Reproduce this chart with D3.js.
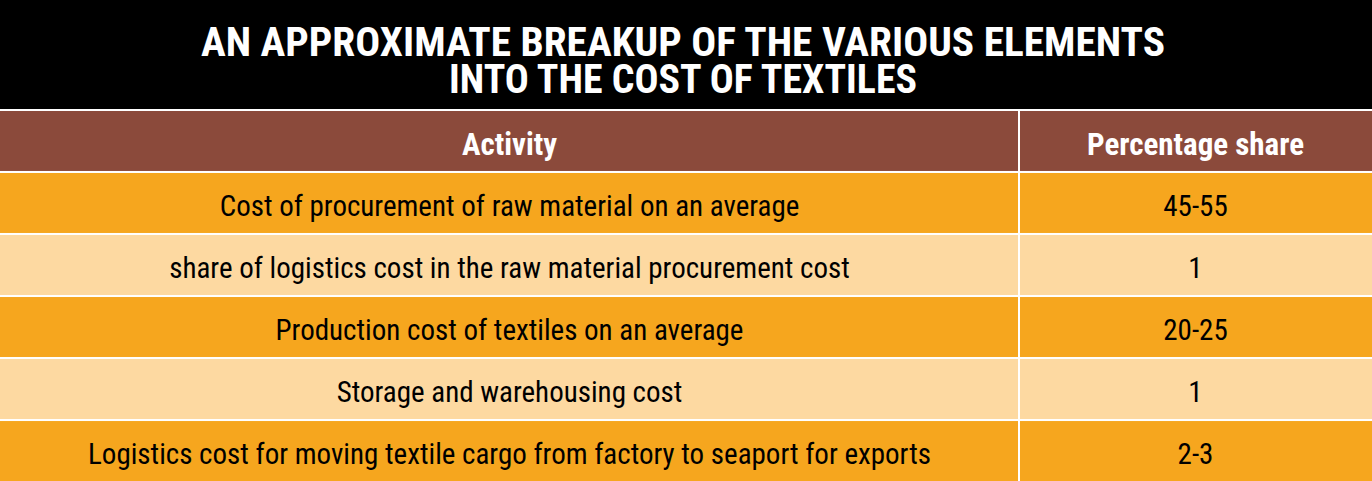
<!DOCTYPE html>
<html lang="en">
<head>
    <meta charset="UTF-8">
    <title>Cost of textiles</title>
    <script src="https://d3js.org/d3.v7.min.js"></script>
    <style>
        body { margin: 0; background: #fff; }
        text { font-family: "Liberation Sans Narrow", "Roboto Condensed", "Liberation Sans", sans-serif; }
    </style>
</head>
<body>
    <script>
        const titleLines = ["AN APPROXIMATE BREAKUP OF THE VARIOUS ELEMENTS", "INTO THE COST OF TEXTILES"];
        const headers = ["Activity", "Percentage share"];
        const activities = [
            "Cost of procurement of raw material on an average",
            "share of logistics cost in the raw material procurement cost",
            "Production cost of textiles on an average",
            "Storage and warehousing cost",
            "Logistics cost for moving textile cargo from factory to seaport for exports"
        ];
        const shares = ["45-55", "1", "20-25", "1", "2-3"];

        const width = 1372, height = 481;
        const svg = d3.select("body").append("svg")
            .attr("width", width).attr("height", height);

        // title band
        svg.append("rect").attr("x", 0).attr("y", 0).attr("width", width).attr("height", 109).attr("fill", "#000");
        svg.selectAll("text.title").data(titleLines).enter().append("text")
            .attr("class", "title")
            .attr("x", 683).attr("y", (d, i) => 56 + i * 37)
            .attr("text-anchor", "middle")
            .attr("fill", "#fff").attr("font-size", 41).attr("font-weight", "bold")
            .attr("textLength", (d, i) => i === 0 ? 964 : 468)
            .attr("lengthAdjust", "spacingAndGlyphs")
            .text(d => d);

        const rows = ["header"].concat(activities.map((d, i) => i));
        const y = d3.scaleBand().domain(rows.map(String)).range([111, 481]).paddingInner(0.033);
        const colX = [0, 1019, 1372];
        const fills = i => i === "header" ? "#8b4a3b" : (i % 2 === 0 ? "#f6a61e" : "#fdd9a1");

        const g = svg.append("g");
        rows.forEach(r => {
            const top = y(String(r)), h = y.bandwidth();
            const texts = r === "header" ? headers : [activities[r], shares[r]];
            [0, 1].forEach(c => {
                g.append("rect")
                    .attr("x", colX[c] + (c ? 1 : 0)).attr("y", top)
                    .attr("width", colX[c + 1] - colX[c] - 1).attr("height", h)
                    .attr("fill", fills(r));
                g.append("text")
                    .attr("x", (colX[c] + colX[c + 1]) / 2).attr("y", top + h / 2)
                    .attr("dy", "0.45em").attr("text-anchor", "middle")
                    .attr("font-size", r === "header" ? 31 : 29)
                    .attr("font-weight", r === "header" ? "bold" : "normal")
                    .attr("fill", r === "header" ? "#fff" : "#000")
                    .text(texts[c]);
            });
        });
    </script>
</body>
</html>
